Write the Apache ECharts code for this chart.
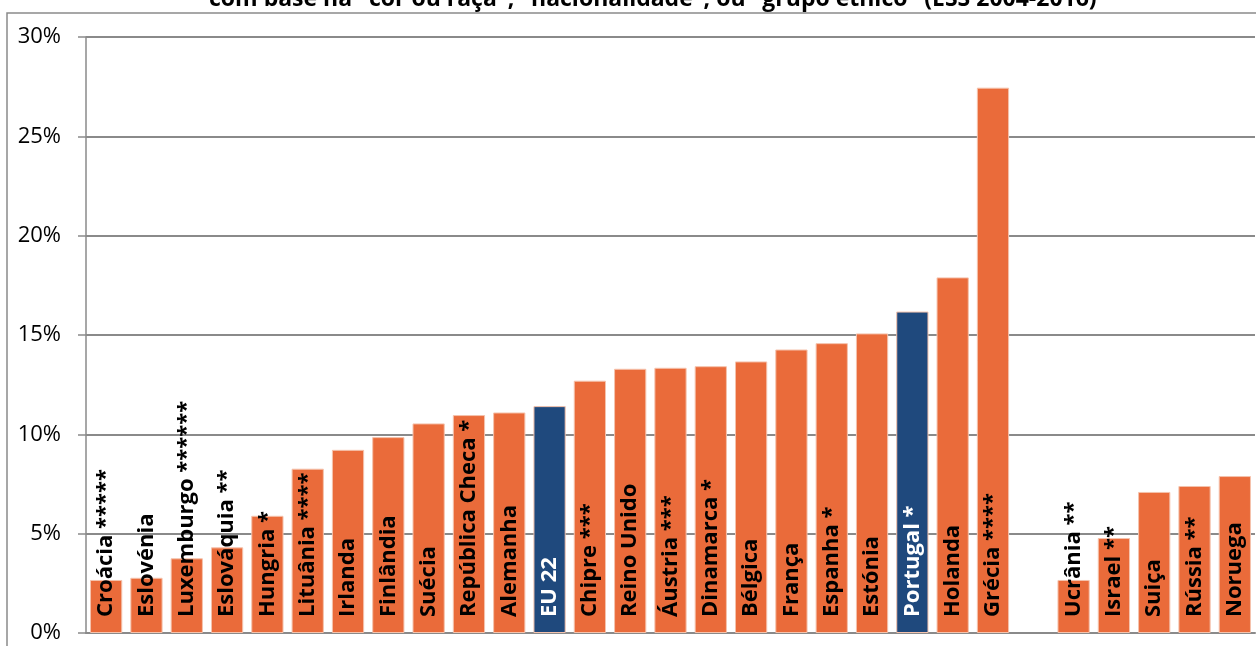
<!DOCTYPE html>
<html>
<head>
<meta charset="utf-8">
<script src="https://cdn.jsdelivr.net/npm/echarts@6/dist/echarts.min.js"></script>
<style>
  html, body { margin: 0; padding: 0; background: #fff; }
  #chart { width: 1256px; height: 646px; }
</style>
</head>
<body>
<div id="chart"></div>
<script>
// dados (% ESS 2004-2016)
var countries = ['Croácia','Eslovénia','Luxemburgo','Eslováquia','Hungria','Lituânia','Irlanda','Finlândia','Suécia','República Checa','Alemanha','EU 22','Chipre','Reino Unido','Áustria','Dinamarca','Bélgica','França','Espanha','Estónia','Portugal','Holanda','Grécia','','Ucrânia','Israel','Suiça','Rússia','Noruega'];
var stars = ['*****','','******','**','*','****','','','','*','','','***','','***','*','','','*','','*','','****','','**','**','','**',''];
var values = [2.67,2.78,3.76,4.31,5.9,8.27,9.22,9.86,10.55,10.97,11.1,11.42,12.7,13.3,13.35,13.43,13.67,14.27,14.59,15.08,16.18,17.9,27.45,null,2.67,4.78,7.1,7.4,7.9];
var highlighted = ['EU 22','Portugal'];
var yTicks = [0,5,10,15,20,25,30];

var orange = '#EA6B3A', blue = '#1F497D';

var barData = values.map(function(v, i) {
  var hi = highlighted.indexOf(countries[i]) >= 0;
  return {
    value: v,
    itemStyle: { color: hi ? blue : orange },
    label: { color: hi ? '#ffffff' : '#000000' }
  };
});

var chart = echarts.init(document.getElementById('chart'));
chart.setOption({
  animation: false,
  title: {
    text: 'com base na "cor ou raça", "nacionalidade", ou "grupo étnico" (ESS 2004-2016)',
    left: 204,
    top: -17,
    textStyle: { fontFamily: 'Open Sans', fontWeight: 'bold', fontSize: 23, color: '#000' }
  },
  graphic: [{
    type: 'rect',
    shape: { x: 7, y: 13, width: 1300, height: 700 },
    style: { fill: 'none', stroke: '#8a8a8a', lineWidth: 1.5 },
    z: -1, silent: true
  }],
  grid: { left: 86, right: 1, top: 37, bottom: 13, containLabel: false },
  xAxis: {
    type: 'category',
    data: countries,
    axisLine: { lineStyle: { color: '#8a8a8a', width: 2 } },
    axisTick: { show: false },
    axisLabel: { show: false }
  },
  yAxis: {
    type: 'value',
    min: yTicks[0],
    max: yTicks[yTicks.length - 1],
    interval: 5,
    axisLine: { show: true, lineStyle: { color: '#8a8a8a', width: 1.5 } },
    axisTick: { show: true, length: 8, lineStyle: { color: '#8a8a8a', width: 1.5 } },
    splitLine: { lineStyle: { color: '#8a8a8a', width: 2 } },
    axisLabel: {
      margin: 25,
      fontFamily: 'Open Sans',
      fontSize: 22,
      color: '#000',
      formatter: function(v) { return v + '%'; }
    }
  },
  series: [{
    type: 'bar',
    data: barData,
    barCategoryGap: '20%',
    itemStyle: { borderColor: '#f5c3ad', borderWidth: 1 },
    label: {
      show: true,
      position: 'insideBottom',
      rotate: 90,
      align: 'left',
      verticalAlign: 'middle',
      distance: 16,
      fontFamily: 'Open Sans',
      fontWeight: 'bold',
      fontSize: 22,
      formatter: function(p) {
        var s = stars[p.dataIndex];
        return countries[p.dataIndex] + (s ? ' ' + s : '');
      }
    }
  }]
});
</script>
</body>
</html>
